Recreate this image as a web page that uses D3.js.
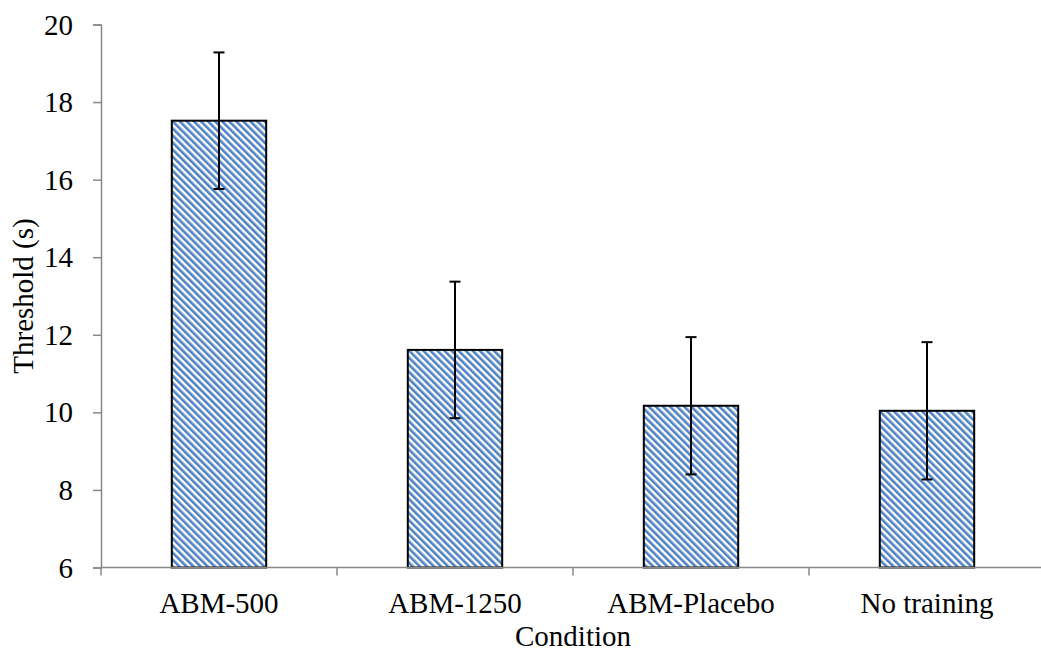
<!DOCTYPE html>
<html>
<head>
<meta charset="utf-8">
<script src="https://cdn.jsdelivr.net/npm/d3@7"></script>
<style>
  body { margin: 0; background: #fff; }
  text { font-family: "Liberation Serif", "Times New Roman", serif; fill: #000; }
</style>
</head>
<body>
<svg width="1041" height="654"></svg>
<script>
// data
const categories = ["ABM-500", "ABM-1250", "ABM-Placebo", "No training"];
const means = [17.52, 11.61, 10.17, 10.04];
const errors = [1.76, 1.76, 1.77, 1.77];
const yTicks = [6, 8, 10, 12, 14, 16, 18, 20];

const svg = d3.select("svg");
const fontSize = 29;

const x = d3.scaleBand()
  .domain(categories)
  .range([101, 1045])
  .padding(0);

const y = d3.scaleLinear()
  .domain([6, 20])
  .range([567.5, 24.5]);

const barW = x.bandwidth() / 2.5;
const data = categories.map((c, i) => ({ cat: c, mean: means[i], err: errors[i] }));

// striped fill like Excel's wide downward diagonal
const defs = svg.append("defs");
const pat = defs.append("pattern")
  .attr("id", "stripes")
  .attr("patternUnits", "userSpaceOnUse")
  .attr("width", 5)
  .attr("height", 10)
  .attr("patternTransform", "rotate(-45)");
pat.append("rect").attr("width", 5).attr("height", 10).attr("fill", "#fff");
pat.append("rect").attr("width", 2.6).attr("height", 10).attr("fill", "#4f82c4");

// bars
svg.selectAll(".bar")
  .data(data)
  .join("rect")
  .attr("class", "bar")
  .attr("x", d => x(d.cat) + x.bandwidth() / 2 - barW / 2)
  .attr("y", d => y(d.mean))
  .attr("width", barW)
  .attr("height", d => y(6) - y(d.mean))
  .attr("fill", "url(#stripes)")
  .attr("stroke", "#000")
  .attr("stroke-width", 2);

// y axis
const yAxis = svg.append("g")
  .attr("transform", "translate(101,0)")
  .call(d3.axisLeft(y).tickValues(yTicks).tickSize(8).tickPadding(20).tickFormat(d3.format("d")));
yAxis.select(".domain").attr("stroke", "#898989").attr("stroke-width", 1.5);
yAxis.selectAll(".tick line").attr("stroke", "#898989").attr("stroke-width", 1.5);
yAxis.selectAll(".tick text")
  .attr("font-size", fontSize)
  .attr("dy", "0.33em")
  .attr("fill", "#000");

// x axis: ticks sit between categories
const xAxis = svg.append("g").attr("transform", `translate(0,${y(6)})`);
xAxis.append("line")
  .attr("x1", x.range()[0]).attr("x2", x.range()[1])
  .attr("stroke", "#898989").attr("stroke-width", 1.5);
const bounds = categories.map(c => x(c)).concat([x.range()[1]]);
xAxis.selectAll(".xtick")
  .data(bounds)
  .join("line")
  .attr("x1", d => d).attr("x2", d => d)
  .attr("y1", 0).attr("y2", 8)
  .attr("stroke", "#898989").attr("stroke-width", 1.5);
xAxis.selectAll(".xlabel")
  .data(categories)
  .join("text")
  .attr("x", d => x(d) + x.bandwidth() / 2)
  .attr("y", 45)
  .attr("text-anchor", "middle")
  .attr("font-size", fontSize)
  .text(d => d);

// error bars
const eb = svg.selectAll(".err")
  .data(data)
  .join("g")
  .attr("class", "err")
  .attr("transform", d => `translate(${x(d.cat) + x.bandwidth() / 2},0)`);
eb.append("line")
  .attr("y1", d => y(d.mean + d.err))
  .attr("y2", d => y(d.mean - d.err))
  .attr("stroke", "#000").attr("stroke-width", 2);
eb.append("line")
  .attr("x1", -5.5).attr("x2", 5.5)
  .attr("y1", d => y(d.mean + d.err)).attr("y2", d => y(d.mean + d.err))
  .attr("stroke", "#000").attr("stroke-width", 2);
eb.append("line")
  .attr("x1", -5.5).attr("x2", 5.5)
  .attr("y1", d => y(d.mean - d.err)).attr("y2", d => y(d.mean - d.err))
  .attr("stroke", "#000").attr("stroke-width", 2);

// axis titles
svg.append("text")
  .attr("x", (x.range()[0] + x.range()[1]) / 2)
  .attr("y", 646)
  .attr("text-anchor", "middle")
  .attr("font-size", fontSize)
  .text("Condition");

svg.append("text")
  .attr("transform", `translate(33,${(y(6) + y(20)) / 2}) rotate(-90)`)
  .attr("text-anchor", "middle")
  .attr("font-size", fontSize)
  .text("Threshold (s)");
</script>
</body>
</html>
